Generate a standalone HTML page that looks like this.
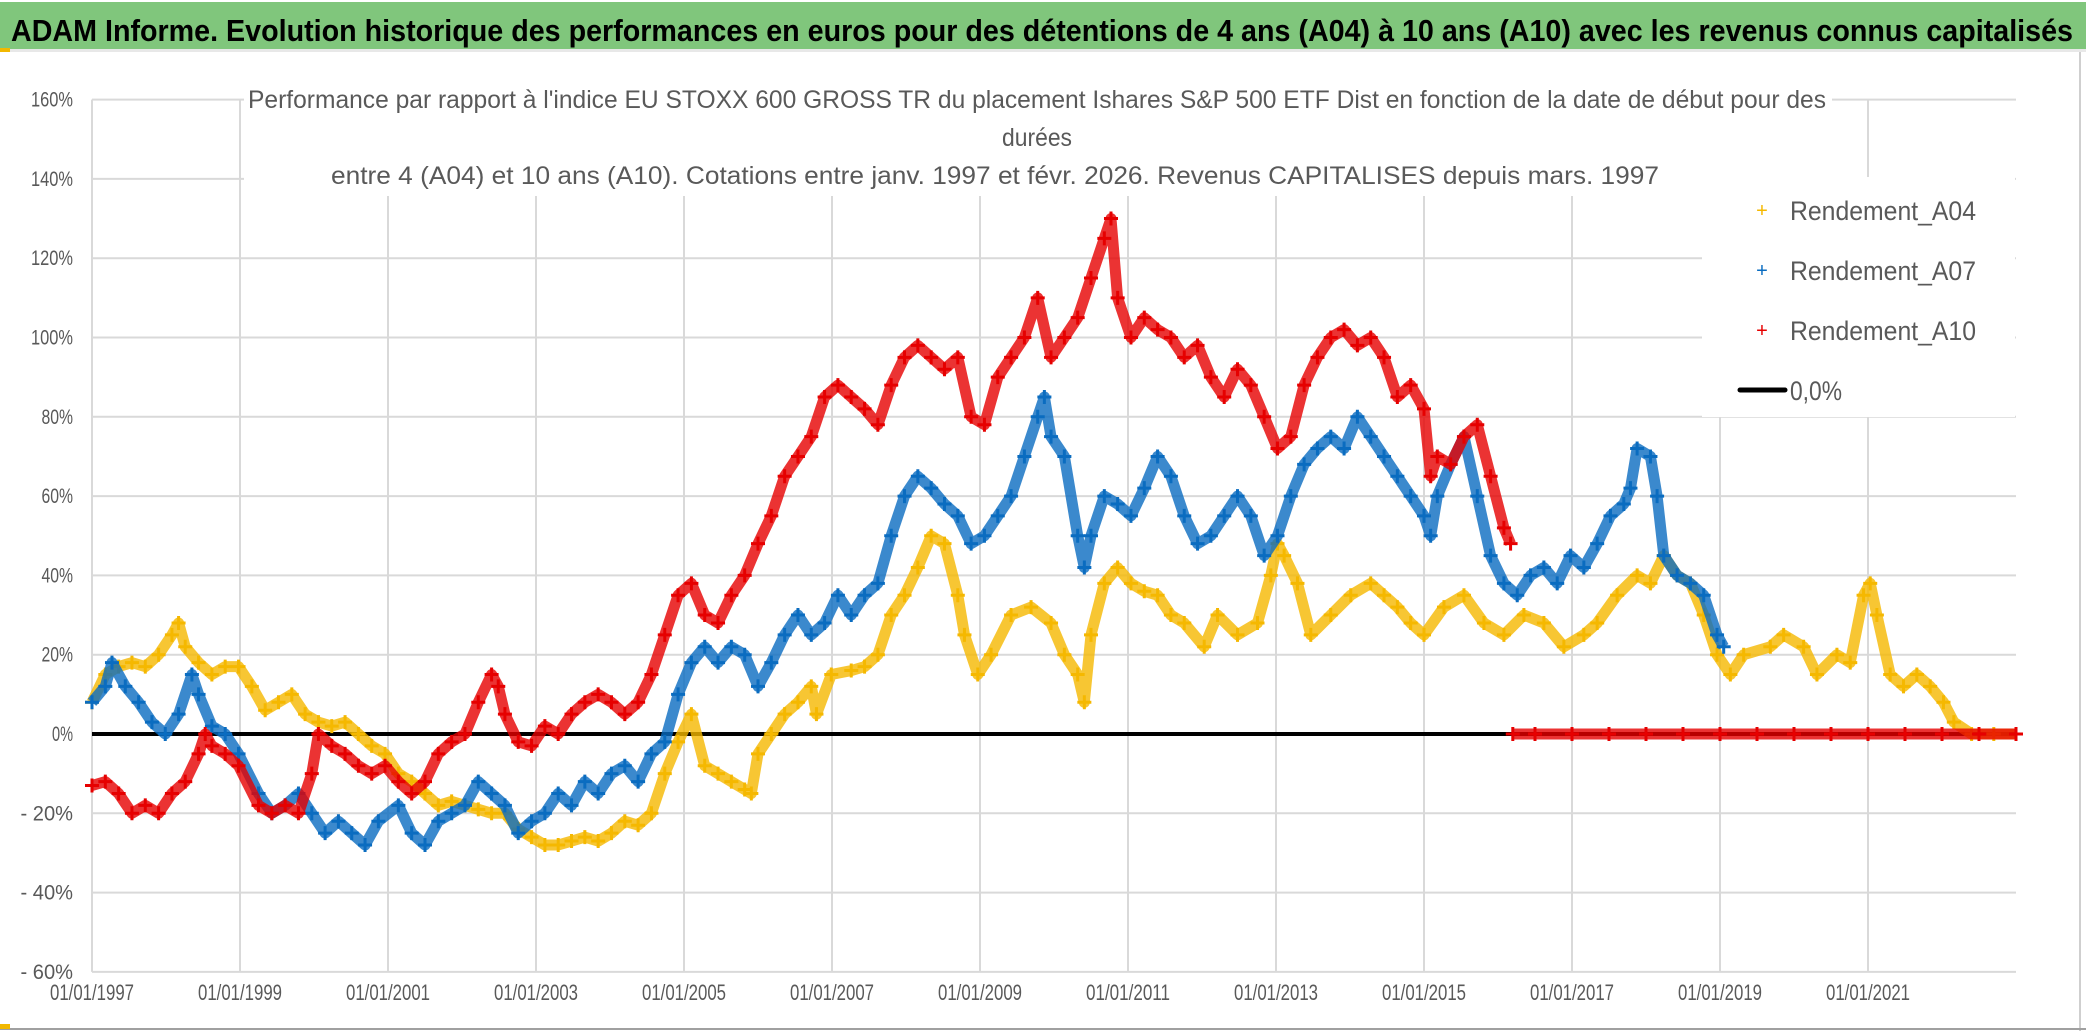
<!DOCTYPE html>
<html><head><meta charset="utf-8">
<style>
html,body{margin:0;padding:0;background:#fff;}
svg{display:block;}
text{font-family:"Liberation Sans Narrow","Liberation Sans",sans-serif;}
</style></head>
<body>
<svg id="chart" width="2086" height="1031" viewBox="0 0 2086 1031" xmlns="http://www.w3.org/2000/svg">
<rect x="0" y="0" width="2086" height="1031" fill="#fff"/>
<rect x="0" y="2" width="2086" height="47" fill="#80c67c"/>
<rect x="0" y="49" width="2086" height="3" fill="#e8e8e8"/>
<rect x="0" y="48" width="10" height="4" fill="#f2b800"/>
<text x="11" y="41" font-size="31" font-weight="bold" fill="#000" textLength="2062" lengthAdjust="spacingAndGlyphs">ADAM Informe. Evolution historique des performances en euros pour des détentions de 4 ans (A04) à 10 ans (A10) avec les revenus connus capitalisés</text>
<g id="grid"></g>
<g id="yaxis"></g>
<g id="xaxis"></g>
<line x1="92" x2="2016" y1="734" y2="734" stroke="#000" stroke-width="4"/>
<g id="series"></g>
<rect x="244" y="80" width="1588" height="116" fill="#fff"/>
<text x="1037" y="108" font-size="25" fill="#595959" text-anchor="middle" textLength="1578" lengthAdjust="spacingAndGlyphs">Performance par rapport à l'indice EU STOXX 600 GROSS TR  du placement Ishares S&amp;P 500 ETF Dist en fonction de la date de début pour des</text>
<text x="1037" y="146" font-size="25" fill="#595959" text-anchor="middle" textLength="70" lengthAdjust="spacingAndGlyphs">durées</text>
<text x="995" y="184" font-size="25" fill="#595959" text-anchor="middle" textLength="1328" lengthAdjust="spacingAndGlyphs">entre 4 (A04) et 10 ans (A10). Cotations entre janv. 1997 et févr. 2026. Revenus CAPITALISES depuis mars. 1997</text>
<g>
<rect x="1702" y="177" width="313" height="240" fill="#fff"/>
<text x="1762" y="217" font-size="20" fill="#f5b800" text-anchor="middle">+</text>
<text x="1790" y="220" font-size="27" fill="#595959" textLength="186" lengthAdjust="spacingAndGlyphs">Rendement_A04</text>
<text x="1762" y="277" font-size="20" fill="#0a6cc0" text-anchor="middle">+</text>
<text x="1790" y="280" font-size="27" fill="#595959" textLength="186" lengthAdjust="spacingAndGlyphs">Rendement_A07</text>
<text x="1762" y="337" font-size="20" fill="#e60000" text-anchor="middle">+</text>
<text x="1790" y="340" font-size="27" fill="#595959" textLength="186" lengthAdjust="spacingAndGlyphs">Rendement_A10</text>
<line x1="1740" x2="1785" y1="390" y2="390" stroke="#000" stroke-width="5" stroke-linecap="round"/>
<text x="1790" y="400" font-size="27" fill="#595959" textLength="52" lengthAdjust="spacingAndGlyphs">0,0%</text>
</g>
<line x1="2080" y1="52" x2="2080" y2="1031" stroke="#cfcfcf" stroke-width="2"/>
<line x1="0" y1="1029" x2="2086" y2="1029" stroke="#a0a0a0" stroke-width="2"/>
<rect x="0" y="1024" width="10" height="5" fill="#f2b800"/>
</svg>
<script>
const yTicks=[-60,-40,-20,0,20,40,60,80,100,120,140,160];
const yTickLabels=["- 60%","- 40%","- 20%","0%","20%","40%","60%","80%","100%","120%","140%","160%"];
const xTicks=[1997,1999,2001,2003,2005,2007,2009,2011,2013,2015,2017,2019,2021];
const xTickLabels=["01/01/1997","01/01/1999","01/01/2001","01/01/2003","01/01/2005","01/01/2007","01/01/2009","01/01/2011","01/01/2013","01/01/2015","01/01/2017","01/01/2019","01/01/2021"];

const a04Dates=[1997.00,1997.18,1997.36,1997.54,1997.72,1997.90,1998.08,1998.17,1998.26,1998.44,1998.62,1998.80,1998.98,1999.16,1999.34,1999.52,1999.70,1999.88,2000.06,2000.24,2000.42,2000.60,2000.78,2000.96,2001.14,2001.32,2001.50,2001.68,2001.86,2002.04,2002.22,2002.40,2002.58,2002.76,2002.94,2003.12,2003.30,2003.48,2003.66,2003.84,2004.02,2004.20,2004.38,2004.56,2004.74,2004.92,2005.10,2005.28,2005.46,2005.64,2005.82,2005.91,2006.00,2006.18,2006.36,2006.54,2006.72,2006.79,2006.99,2007.26,2007.44,2007.62,2007.80,2007.98,2008.16,2008.34,2008.52,2008.70,2008.79,2008.97,2009.15,2009.42,2009.69,2009.96,2010.14,2010.32,2010.41,2010.50,2010.68,2010.86,2011.04,2011.22,2011.40,2011.58,2011.76,2012.03,2012.21,2012.48,2012.75,2012.93,2013.02,2013.11,2013.29,2013.47,2013.74,2014.01,2014.28,2014.46,2014.64,2014.82,2015.00,2015.27,2015.54,2015.81,2016.08,2016.35,2016.62,2016.89,2017.16,2017.34,2017.61,2017.88,2018.06,2018.24,2018.42,2018.60,2018.78,2018.96,2019.14,2019.32,2019.68,2019.86,2020.13,2020.31,2020.58,2020.76,2020.94,2021.03,2021.12,2021.30,2021.48,2021.66,2021.84,2022.02,2022.16,2022.40,2022.70,2023.00];
const a04Values=[8,15,17,18,17,20,25,28,22,18,15,17,17,12,6,8,10,5,3,2,3,0,-3,-5,-10,-12,-15,-18,-17,-18,-19,-20,-20,-24,-26,-28,-28,-27,-26,-27,-25,-22,-23,-20,-10,-2,5,-8,-10,-12,-14,-15,-5,0,5,8,12,5,15,16,17,20,30,35,42,50,48,35,25,15,20,30,32,28,20,15,8,25,38,42,38,36,35,30,28,22,30,25,28,40,48,45,38,25,30,35,38,35,32,28,25,32,35,28,25,30,28,22,25,28,35,40,38,45,40,38,30,20,15,20,22,25,22,15,20,18,35,38,30,15,12,15,12,8,3,0,0,0];

const a07Dates=[1997.00,1997.18,1997.27,1997.45,1997.63,1997.81,1997.99,1998.17,1998.35,1998.44,1998.62,1998.80,1998.98,1999.25,1999.43,1999.61,1999.79,1999.97,2000.15,2000.33,2000.51,2000.69,2000.87,2001.14,2001.32,2001.50,2001.68,2001.86,2002.04,2002.22,2002.40,2002.58,2002.76,2002.94,2003.12,2003.30,2003.48,2003.66,2003.84,2004.02,2004.20,2004.38,2004.56,2004.74,2004.92,2005.10,2005.28,2005.46,2005.64,2005.82,2006.00,2006.18,2006.36,2006.54,2006.72,2006.90,2007.08,2007.26,2007.44,2007.62,2007.80,2007.98,2008.16,2008.34,2008.52,2008.70,2008.88,2009.06,2009.24,2009.42,2009.60,2009.78,2009.87,2009.96,2010.14,2010.32,2010.41,2010.50,2010.68,2010.86,2011.04,2011.22,2011.40,2011.58,2011.76,2011.94,2012.12,2012.30,2012.48,2012.66,2012.84,2013.02,2013.20,2013.38,2013.56,2013.74,2013.92,2014.10,2014.28,2014.46,2014.64,2014.82,2015.00,2015.09,2015.18,2015.36,2015.54,2015.72,2015.90,2016.08,2016.26,2016.44,2016.62,2016.80,2016.98,2017.16,2017.34,2017.52,2017.70,2017.79,2017.88,2018.06,2018.15,2018.24,2018.42,2018.60,2018.78,2018.96,2019.05];
const a07Values=[8,12,18,12,8,3,0,5,15,10,2,0,-5,-15,-20,-18,-15,-20,-25,-22,-25,-28,-22,-18,-25,-28,-22,-20,-18,-12,-15,-18,-25,-22,-20,-15,-18,-12,-15,-10,-8,-12,-5,-2,10,18,22,18,22,20,12,18,25,30,25,28,35,30,35,38,50,60,65,62,58,55,48,50,55,60,70,80,85,75,70,50,42,50,60,58,55,62,70,65,55,48,50,55,60,55,45,50,60,68,72,75,72,80,75,70,65,60,55,50,60,68,75,60,45,38,35,40,42,38,45,42,48,55,58,62,72,70,60,45,40,38,35,25,22];

const a10Dates=[1997.00,1997.18,1997.36,1997.54,1997.72,1997.90,1998.08,1998.26,1998.44,1998.53,1998.62,1998.80,1998.98,1999.25,1999.43,1999.61,1999.79,1999.97,2000.06,2000.24,2000.42,2000.60,2000.78,2000.96,2001.14,2001.32,2001.50,2001.68,2001.86,2002.04,2002.22,2002.40,2002.49,2002.58,2002.76,2002.94,2003.12,2003.30,2003.48,2003.66,2003.84,2004.02,2004.20,2004.38,2004.56,2004.74,2004.92,2005.10,2005.28,2005.46,2005.64,2005.82,2006.00,2006.18,2006.36,2006.54,2006.72,2006.90,2007.08,2007.26,2007.44,2007.62,2007.80,2007.98,2008.16,2008.34,2008.52,2008.70,2008.88,2009.06,2009.24,2009.42,2009.60,2009.78,2009.96,2010.14,2010.32,2010.50,2010.68,2010.77,2010.86,2011.04,2011.22,2011.40,2011.58,2011.76,2011.94,2012.12,2012.30,2012.48,2012.66,2012.84,2013.02,2013.20,2013.38,2013.56,2013.74,2013.92,2014.10,2014.28,2014.46,2014.64,2014.82,2015.00,2015.09,2015.18,2015.36,2015.54,2015.72,2015.90,2016.08,2016.17,2016.20,2016.50,2017.00,2017.50,2018.00,2018.50,2019.00,2019.50,2020.00,2020.50,2021.00,2021.50,2022.00,2022.50,2023.00];
const a10Values=[-13,-12,-15,-20,-18,-20,-15,-12,-5,0,-3,-5,-8,-18,-20,-18,-20,-10,0,-3,-5,-8,-10,-8,-12,-15,-12,-5,-2,0,8,15,12,5,-2,-3,2,0,5,8,10,8,5,8,15,25,35,38,30,28,35,40,48,55,65,70,75,85,88,85,82,78,88,95,98,95,92,95,80,78,90,95,100,110,95,100,105,115,125,130,110,100,105,102,100,95,98,90,85,92,88,80,72,75,88,95,100,102,98,100,95,85,88,82,65,70,68,75,78,65,52,48,0,0,0,0,0,0,0,0,0,0,0,0,0,0,0];

const X0=92, PX_PER_YEAR=74.0, Y0=734, PX_PER_PCT=3.965;
function xs(year){return X0+(year-1997)*PX_PER_YEAR;}
function ys(v){return Y0-v*PX_PER_PCT;}
const NS="http://www.w3.org/2000/svg";
function mk(tag,attrs,parent){const e=document.createElementNS(NS,tag);for(const k in attrs)e.setAttribute(k,attrs[k]);parent.appendChild(e);return e;}

const grid=document.getElementById('grid');
const yaxis=document.getElementById('yaxis');
const xaxis=document.getElementById('xaxis');
yTicks.forEach((t,i)=>{
  const l=mk('line',{x1:X0,x2:xs(2023),y1:ys(t),y2:ys(t),stroke:'#d9d9d9','stroke-width':2},grid);
  
  
  const lab=yTickLabels[i];
  const tx=mk('text',{x:73,y:ys(t)+7,'font-size':21,fill:'#595959','text-anchor':'end',textLength:lab.length*10.5,lengthAdjust:'spacingAndGlyphs'},yaxis);
  tx.textContent=lab;
  
  
});
xTicks.forEach((t,i)=>{
  const l=mk('line',{x1:xs(t),x2:xs(t),y1:ys(160),y2:ys(-60),stroke:'#d9d9d9','stroke-width':2},grid);
  
  
  const tx=mk('text',{x:xs(t),y:1000,'font-size':22,fill:'#595959','text-anchor':'middle',textLength:84,lengthAdjust:'spacingAndGlyphs'},xaxis);
  tx.textContent=xTickLabels[i];
  
  
});

const seriesLayer=document.getElementById('series');
function drawSeries(dates,vals,color,name){
  const g=mk('g',{},seriesLayer);
  
  
  let runs=[[]];
  dates.forEach((d,i)=>{
    if(i>0 && Math.abs(vals[i]-vals[i-1])>30) runs.push([]);
    runs[runs.length-1].push(xs(d).toFixed(1)+','+ys(vals[i]).toFixed(1));
  });
  runs.forEach(r=>{
    mk('polyline',{points:r.join(' '),fill:'none',stroke:color,'stroke-width':11,'stroke-linejoin':'round','stroke-opacity':0.8},g);
  });
  dates.forEach((d,i)=>{
    const x=xs(d),y=ys(vals[i]);
    const p=mk('path',{d:`M${x-7},${y}H${x+7}M${x},${y-7}V${y+7}`,stroke:color,'stroke-width':3},g);
    
    
  });
}
drawSeries(a04Dates,a04Values,'#f5b800','series-a04');
drawSeries(a07Dates,a07Values,'#0a6cc0','series-a07');
drawSeries(a10Dates,a10Values,'#e60000','series-a10');
</script>
</body></html>
